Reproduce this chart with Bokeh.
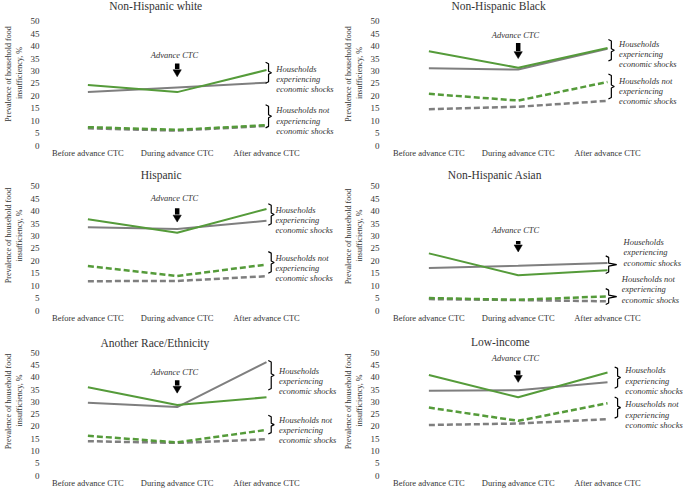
from bokeh.plotting import figure
from bokeh.layouts import column, row
from bokeh.models import FixedTicker
from bokeh.core.properties import value
from bokeh.embed import file_html
from bokeh.resources import INLINE

# ---------------- data ----------------
categories = ["Before advance CTC", "During advance CTC", "After advance CTC"]
periods = [0, 1, 2]
y_ticks = [0, 5, 10, 15, 20, 25, 30, 35, 40, 45, 50]
titles = ["Non-Hispanic white", "Non-Hispanic Black", "Hispanic",
          "Non-Hispanic Asian", "Another Race/Ethnicity", "Low-income"]

white_green = [24.4, 21.5, 30.4]
white_gray = [21.5, 23.4, 25.3]
white_green_dash = [7.4, 6.3, 8.2]
white_gray_dash = [6.9, 6.0, 7.9]

black_green = [38.0, 31.3, 39.3]
black_gray = [31.1, 30.6, 39.0]
black_green_dash = [20.8, 18.1, 25.6]
black_gray_dash = [14.6, 15.6, 18.0]

hisp_green = [36.7, 31.3, 40.9]
hisp_gray = [33.5, 32.8, 36.1]
hisp_green_dash = [17.9, 13.9, 18.5]
hisp_gray_dash = [11.8, 11.9, 13.8]

asian_green = [23.0, 14.2, 16.2]
asian_gray = [17.1, 18.0, 19.1]
asian_green_dash = [5.0, 4.3, 5.7]
asian_gray_dash = [4.6, 4.2, 3.7]

other_green = [36.0, 28.8, 31.9]
other_gray = [29.7, 27.9, 46.3]
other_green_dash = [16.2, 13.5, 18.6]
other_gray_dash = [14.0, 13.3, 14.8]

low_green = [41.0, 31.9, 42.0]
low_gray = [34.6, 34.8, 38.0]
low_green_dash = [27.7, 22.3, 29.5]
low_gray_dash = [20.6, 21.2, 23.0]

shock_text = ["Households", "experiencing", "economic shocks"]
noshock_text = ["Households not", "experiencing", "economic shocks"]
arrow_label = "Advance CTC"

# ---------------- layout / annotation placement ----------------
SERIF = "Liberation Serif"
GREEN = "#559B3A"
GRAY = "#7F7F7F"
PX_PER_UNIT = 2.5
PX_PER_CAT = 90.5
BORDER_LEFT = 38
col_widths = [340, 343]
col_cat0 = [84, 85]
row_heights = [160, 165, 165]
row_bottom = [14, 14, 12]

annot = [
    dict(title_x=0.76, title_y=56.0, adv_y=36.4, arr_top=33.0, arr_bot=27.7,
         b1=(33.5, 25.1), b2=(16.4, 7.1), bx=1.99, nub=0.033, tx1=2.11, tx2=2.11,
         t1=31.0, t2=14.1, sp=4.2),
    dict(title_x=0.78, title_y=56.0, adv_y=44.4, arr_top=41.3, arr_bot=35.0,
         b1=(42.7, 34.0), b2=(28.8, 18.7), bx=2.01, nub=0.033, tx1=2.13, tx2=2.13,
         t1=40.7, t2=26.1, sp=4.0),
    dict(title_x=0.82, title_y=54.4, adv_y=45.2, arr_top=41.2, arr_bot=35.6,
         b1=(43.0, 34.3), b2=(23.7, 15.0), bx=2.02, nub=0.033, tx1=2.1, tx2=2.1,
         t1=40.6, t2=21.3, sp=4.1),
    dict(title_x=0.74, title_y=54.7, adv_y=32.4, arr_top=28.0, arr_bot=23.6,
         b1=(22.0, 14.9), b2=(8.8, 2.4), bx=1.98, nub=0.09, tx1=2.18, tx2=2.16,
         t1=27.7, t2=12.8, sp=4.3),
    dict(title_x=0.75, title_y=54.1, adv_y=42.2, arr_top=38.9, arr_bot=33.6,
         b1=(46.9, 34.9), b2=(24.6, 16.9), bx=2.02, nub=0.033, tx1=2.14, tx2=2.14,
         t1=42.5, t2=22.5, sp=4.0),
    dict(title_x=0.8, title_y=54.3, adv_y=47.8, arr_top=42.8, arr_bot=38.0,
         b1=(44.3, 35.6), b2=(32.0, 23.4), bx=2.08, nub=0.033, tx1=2.2, tx2=2.2,
         t1=42.9, t2=29.0, sp=4.2),
]

ylabels = ["Prevalence of  household food\ninsufficiency, %",
           "Prevalence of  household food\ninsufficiency, %",
           "Prevalence of household food\ninsufficiency, %",
           "Prevalence of  household food\ninsufficiency, %",
           "Prevalence of  household food\ninsufficiency, %",
           "Prevalence of  household food\ninsufficiency, %"]

series = [
    (white_green, white_gray, white_green_dash, white_gray_dash),
    (black_green, black_gray, black_green_dash, black_gray_dash),
    (hisp_green, hisp_gray, hisp_green_dash, hisp_gray_dash),
    (asian_green, asian_gray, asian_green_dash, asian_gray_dash),
    (other_green, other_gray, other_green_dash, other_gray_dash),
    (low_green, low_gray, low_green_dash, low_gray_dash),
]


def draw_brace(p, x0, top, bot, nub):
    hook = 0.033
    c = 0.6
    mid = (top + bot) / 2.0
    xs = [x0, x0 + hook, x0 + hook, x0 + hook + nub, x0 + hook, x0 + hook, x0]
    ys = [top, top - c, mid + c, mid, mid - c, bot + c, bot]
    p.line(xs, ys, color="black", line_width=1.2)


def make_panel(i):
    r, c = i // 2, i % 2
    h = row_heights[r]
    bb = row_bottom[r]
    w = col_widths[c]
    y_end = (h - bb) / PX_PER_UNIT
    x_start = (BORDER_LEFT - col_cat0[c]) / PX_PER_CAT
    x_end = (w - col_cat0[c]) / PX_PER_CAT
    a = annot[i]
    green, gray, green_dash, gray_dash = series[i]

    p = figure(width=w, height=h, x_range=(x_start, x_end), y_range=(0, y_end),
               output_backend="svg", toolbar_location=None,
               min_border_left=BORDER_LEFT, min_border_right=0,
               min_border_top=0, min_border_bottom=bb)
    p.outline_line_color = None
    p.xgrid.grid_line_color = None
    p.ygrid.grid_line_color = None
    p.background_fill_color = "white"
    p.border_fill_color = "white"

    # axes
    p.xaxis.ticker = FixedTicker(ticks=periods)
    p.xaxis.major_label_overrides = {k: t for k, t in zip(periods, categories)}
    p.yaxis.ticker = FixedTicker(ticks=y_ticks)
    for ax in (p.xaxis[0], p.yaxis[0]):
        ax.axis_line_color = None
        ax.major_tick_line_color = None
        ax.minor_tick_line_color = None
        ax.major_tick_out = 0
        ax.major_tick_in = 0
        ax.minor_tick_out = 0
        ax.minor_tick_in = 0
        ax.major_label_text_font = SERIF
        ax.major_label_text_color = "#333333"
        ax.major_label_standoff = 3
    p.xaxis.major_label_standoff = 2
    p.xaxis.major_label_text_font_size = "8.5px"
    p.yaxis.major_label_text_font_size = "9px"
    p.yaxis.axis_label = ylabels[i]
    p.yaxis.axis_label_text_font = SERIF
    p.yaxis.axis_label_text_font_size = "8px"
    p.yaxis.axis_label_text_font_style = "normal"
    p.yaxis.axis_label_text_color = "#333333"
    p.yaxis.axis_label_standoff = 4

    # series
    p.line(periods, gray_dash, color=GRAY, line_width=2.5, line_dash="6 3")
    p.line(periods, green_dash, color=GREEN, line_width=2.5, line_dash="6 3")
    p.line(periods, gray, color=GRAY, line_width=2)
    p.line(periods, green, color=GREEN, line_width=2)

    # title
    p.text(x=[a["title_x"]], y=[a["title_y"]], text=[titles[i]],
           text_font=value(SERIF), text_font_size="11.5px", text_font_style="normal",
           text_align="center", text_baseline="middle", text_color="#333333")

    # Advance CTC arrow
    p.text(x=[0.97], y=[a["adv_y"]], text=[arrow_label],
           text_font=value(SERIF), text_font_size="8.5px", text_font_style="italic",
           text_align="center", text_baseline="middle", text_color="#333333")
    head_top = a["arr_bot"] + 2.8
    p.segment(x0=[1.0], y0=[a["arr_top"]], x1=[1.0], y1=[head_top + 0.3],
              line_width=4.5, color="black", line_cap="butt")
    hw = 0.046
    p.patch([1.0 - hw, 1.0 + hw, 1.0], [head_top, head_top, a["arr_bot"]],
            color="black", line_width=0.5)

    # braces and group text
    draw_brace(p, a["bx"], a["b1"][0], a["b1"][1], a["nub"])
    draw_brace(p, a["bx"], a["b2"][0], a["b2"][1], a["nub"])
    ys1 = [a["t1"] - k * a["sp"] for k in range(3)]
    ys2 = [a["t2"] - k * a["sp"] for k in range(3)]
    p.text(x=[a["tx1"]] * 3, y=ys1, text=shock_text,
           text_font=value(SERIF), text_font_size="8.5px", text_font_style="italic",
           text_align="left", text_baseline="middle", text_color="#333333")
    p.text(x=[a["tx2"]] * 3, y=ys2, text=noshock_text,
           text_font=value(SERIF), text_font_size="8.5px", text_font_style="italic",
           text_align="left", text_baseline="middle", text_color="#333333")
    return p


panels = [make_panel(i) for i in range(6)]
layout = column(row(panels[0], panels[1]),
                row(panels[2], panels[3]),
                row(panels[4], panels[5]))

open("out.html", "w").write(file_html(layout, INLINE))
